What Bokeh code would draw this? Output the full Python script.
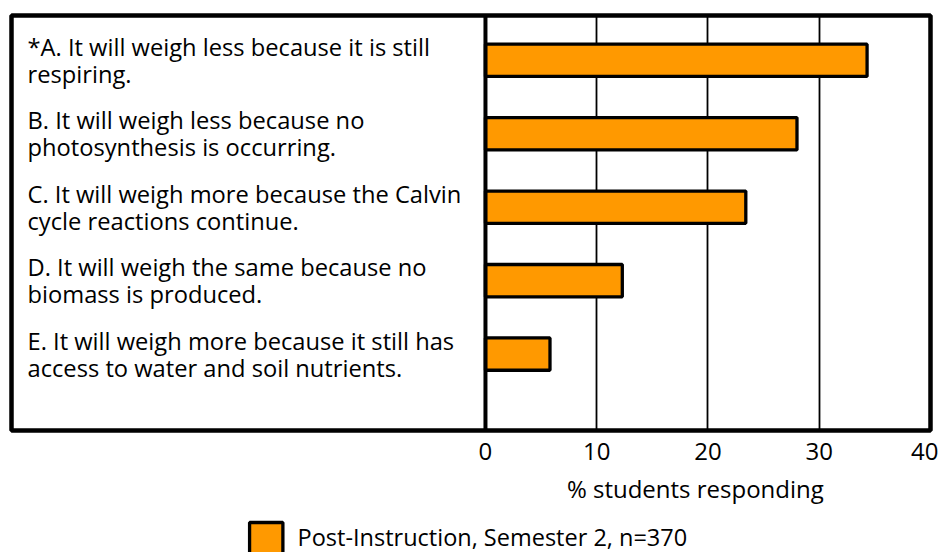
from bokeh.plotting import figure
from bokeh.layouts import column
from bokeh.models import Range1d, FixedTicker, Span, ColumnDataSource
from bokeh.core.properties import value
from bokeh.embed import file_html
from bokeh.resources import INLINE

# ---- data ----
answers = [
    "*A. It will weigh less because it is still\nrespiring.",
    "B. It will weigh less because no\nphotosynthesis is occurring.",
    "C. It will weigh more because the Calvin\ncycle reactions continue.",
    "D. It will weigh the same because no\nbiomass is produced.",
    "E.  It will weigh more because it still has\naccess to water and soil nutrients.",
]
positions = [5, 4, 3, 2, 1]
percent = [34.3, 28.0, 23.4, 12.3, 5.8]
x_ticks = [0, 10, 20, 30, 40]
grid_ticks = [10, 20, 30]
x_label = "% students responding"
series_name = "Post-Instruction, Semester 2, n=370"

FONT = "Open Sans"
ORANGE = "#FF9900"

W = 938
x_start, x_end = -42.6, 40
y_start, y_end = -0.04, 5.61

p = figure(width=W, height=470, output_backend="svg", toolbar_location=None,
           x_range=Range1d(x_start, x_end), y_range=Range1d(y_start, y_end),
           min_border_left=11, min_border_right=8, min_border_top=15, min_border_bottom=40)
p.background_fill_color = "white"
p.border_fill_color = "white"
p.outline_line_color = "black"
p.outline_line_width = 4.5

p.ygrid.grid_line_color = None
p.xgrid.ticker = FixedTicker(ticks=grid_ticks)
p.xgrid.grid_line_color = "black"
p.xgrid.grid_line_width = 1.8

p.yaxis.visible = False

p.xaxis.ticker = FixedTicker(ticks=x_ticks)
p.xaxis.axis_line_color = None
p.xaxis.major_tick_line_color = None
p.xaxis.minor_tick_line_color = None
p.xaxis.major_label_text_font = FONT
p.xaxis.major_label_text_font_size = "24px"
p.xaxis.major_label_text_color = "black"
p.xaxis.major_label_standoff = 6

p.add_layout(Span(location=0, dimension="height", line_color="black", line_width=4))

src = ColumnDataSource(dict(y=positions, right=percent, text=answers))
bars = p.hbar(y="y", right="right", left=0, height=0.44, source=src,
              fill_color=ORANGE, line_color="black", line_width=3.3)

p.text(x=x_start, y="y", text="text", source=src, x_offset=16,
       text_font=value(FONT), text_font_size="23.7px", text_color="black",
       text_align="left", text_baseline="middle", text_line_height=0.845)

# ---- bottom strip: axis title and legend (pixel-space layout) ----
H2 = 82
q = figure(width=W, height=H2, output_backend="svg", toolbar_location=None,
           x_range=Range1d(0, W), y_range=Range1d(470 + H2, 470),
           x_axis_location=None, y_axis_location=None,
           min_border_left=0, min_border_right=0, min_border_top=0, min_border_bottom=0)
q.outline_line_color = None
q.grid.grid_line_color = None
q.background_fill_color = "white"
q.border_fill_color = "white"

q.text(x=[698], y=[488], text=[x_label], text_font=value(FONT), text_font_size="24px",
       text_color="black", text_align="center", text_baseline="middle")
q.quad(left=[243], right=[277], top=[522], bottom=[580],
       fill_color=ORANGE, line_color="black", line_width=3.3)
q.text(x=[292], y=[536], text=[series_name], text_font=value(FONT), text_font_size="23.5px",
       text_color="black", text_align="left", text_baseline="middle")

open("out.html", "w").write(file_html(column(p, q, spacing=0), INLINE))
